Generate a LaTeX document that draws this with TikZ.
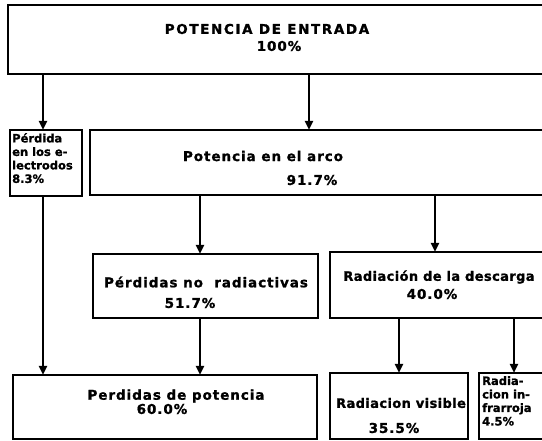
\documentclass[tikz,border=0pt]{standalone}
\usepackage{fontspec}
\setmainfont{DejaVu Sans}
\newfontfamily\lblfont[LetterSpace=7,FakeBold=1.2]{DejaVu Sans Bold}
\newfontfamily\narrowfont[LetterSpace=3,FakeBold=1.2]{DejaVu Sans Bold}
\newfontfamily\capfont[LetterSpace=12,FakeBold=1.2]{DejaVu Sans Bold}
\newfontfamily\smallfont[FakeBold=1.2]{DejaVu Sans Bold}
\usetikzlibrary{arrows.meta}
\tikzset{
  box/.style={draw, line width=2.6pt, inner sep=0pt, outer sep=0pt, anchor=north west},
  lbl/.style={inner sep=0pt, font=\lblfont\fontsize{13.5}{15}\selectfont},
  narrowlbl/.style={inner sep=0pt, font=\narrowfont\fontsize{13}{15}\selectfont},
  caplbl/.style={inner sep=0pt, font=\capfont\fontsize{13.5}{15}\selectfont},
  tiny/.style={inner sep=0pt, anchor=north west, align=left, font=\smallfont\fontsize{11.5}{13.5}\selectfont},
  arr/.style={line width=2.6pt, -{Triangle[width=8pt,length=9pt]}}
}
\begin{document}
\begin{tikzpicture}[x=1pt,y=-1pt]
\useasboundingbox (0,0) rectangle (542,441);
\clip (0,0) rectangle (542,441);
% boxes
\node[box, minimum width=552pt, minimum height=69pt] (top) at (8,5) {};
\node[box, minimum width=72pt, minimum height=66pt] (sm) at (10,130) {};
\node[box, minimum width=470pt, minimum height=65pt] (arc) at (90,130) {};
\node[box, minimum width=225pt, minimum height=64pt] (pnr) at (93,254) {};
\node[box, minimum width=230pt, minimum height=66pt] (rd) at (330,252) {};
\node[box, minimum width=304pt, minimum height=64pt] (pp) at (13,375) {};
\node[box, minimum width=138pt, minimum height=66pt] (vis) at (330,373) {};
\node[box, minimum width=80pt, minimum height=66pt] (ir) at (479,373) {};
% texts
\node[caplbl] (t1) at (267,29) {POTENCIA DE ENTRADA};
\node[lbl] (t1b) at (279,46) {100\%};
\node[tiny] (t2) at (12,133) {Pérdida\\en los e-\\lectrodos\\8.3\%};
\node[lbl] (t3) at (263,156) {Potencia en el arco};
\node[lbl] (t3b) at (312,180) {91.7\%};
\node[lbl] (t4) at (206,282) {Pérdidas no\ \ radiactivas};
\node[lbl] (t4b) at (190,303) {51.7\%};
\node[narrowlbl] (t5) at (439,277) {Radiación de la descarga};
\node[lbl] (t5b) at (432,294) {40.0\%};
\node[lbl] (t6) at (176,396) {Perdidas de potencia};
\node[lbl] (t6b) at (162,409) {60.0\%};
\node[narrowlbl] (t7) at (401,403) {Radiacion visible};
\node[lbl] (t7b) at (394,428) {35.5\%};
\node[tiny] (t8) at (482,376) {Radia-\\cion in-\\frarroja\\4.5\%};
% arrow x positions
\coordinate (xa) at (43,0);
\coordinate (xb) at (309,0);
\coordinate (xc) at (200,0);
\coordinate (xd) at (435,0);
\coordinate (xe) at (399,0);
\coordinate (xf) at (514,0);
% connectors
\draw[arr] (top.south -| xa) -- (sm.north -| xa);
\draw[arr] (top.south -| xb) -- (arc.north -| xb);
\draw[arr] (arc.south -| xc) -- (pnr.north -| xc);
\draw[arr] (arc.south -| xd) -- (rd.north -| xd);
\draw[arr] (sm.south -| xa) -- (pp.north -| xa);
\draw[arr] (pnr.south -| xc) -- (pp.north -| xc);
\draw[arr] (rd.south -| xe) -- (vis.north -| xe);
\draw[arr] (rd.south -| xf) -- (ir.north -| xf);
\end{tikzpicture}
\end{document}
